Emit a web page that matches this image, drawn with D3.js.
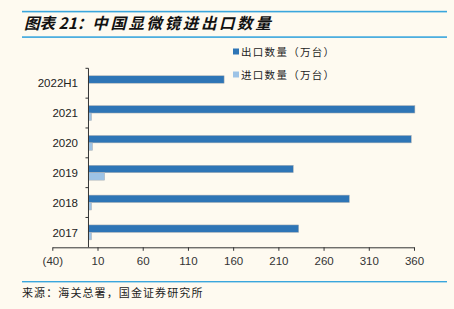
<!DOCTYPE html>
<html>
<head>
<meta charset="utf-8">
<script src="https://cdn.jsdelivr.net/npm/d3@7"></script>
<style>
  body { margin: 0; background: #fefaf0; }
  svg { display: block; }
</style>
</head>
<body>
<svg width="454" height="309"></svg>
<script>
// data
var categories = ["2022H1", "2021", "2020", "2019", "2018", "2017"];
var exportQty = [150, 361, 357, 226.5, 288.5, 232.5];
var importQty = [0.4, 3.5, 4.6, 18, 3.5, 3.5];
var seriesNames = ["出口数量（万台）", "进口数量（万台）"];
var xTicks = [-40, 10, 60, 110, 160, 210, 260, 310, 360];

var colors = ["#2e75b6", "#9dc3e6"];
var lineColor = "#3aa6dd";

var svg = d3.select("svg");

// header / footer rules
svg.append("rect").attr("x", 22).attr("y", 10.8).attr("width", 425).attr("height", 1.6).attr("fill", lineColor);
svg.append("rect").attr("x", 22).attr("y", 36.3).attr("width", 425).attr("height", 1.6).attr("fill", lineColor);
svg.append("rect").attr("x", 22).attr("y", 281).attr("width", 425).attr("height", 1.4).attr("fill", lineColor);

var title = svg.append("text")
    .attr("x", 24).attr("y", 29)
    .attr("font-family", "'Noto Sans CJK SC', sans-serif")
    .attr("font-size", 15.5)
    .attr("font-style", "italic")
    .attr("font-weight", "bold")
    .attr("fill", "#111");
title.append("tspan").text("图表 21：");
title.append("tspan").attr("letter-spacing", 2.6).text("中国显微镜进出口数量");

svg.append("text")
    .attr("x", 22).attr("y", 297)
    .attr("font-family", "'Noto Sans CJK SC', sans-serif")
    .attr("font-size", 11)
    .attr("letter-spacing", 1.1)
    .attr("fill", "#222")
    .text("来源：海关总署，国金证券研究所");

// scales
var x = d3.scaleLinear().domain([-40, 360]).range([52.3, 414]);
var y = d3.scaleBand().domain(categories).range([68.3, 247.3]).padding(0);
var ySub = d3.scaleBand().domain([0, 1]).range([0, y.bandwidth()]).paddingInner(0).paddingOuter(1);

var g = svg.append("g");

// bars
var rows = categories.map(function(c, i) {
    return { cat: c, vals: [exportQty[i], importQty[i]] };
});

var row = g.selectAll(".row")
    .data(rows)
    .enter().append("g")
    .attr("transform", function(d) { return "translate(0," + y(d.cat) + ")"; });

row.selectAll("rect")
    .data(function(d) { return d.vals; })
    .enter().append("rect")
    .attr("x", x(0))
    .attr("y", function(d, i) { return ySub(i); })
    .attr("width", function(d) { return x(d) - x(0); })
    .attr("height", ySub.bandwidth())
    .attr("fill", function(d, i) { return colors[i]; })
    .attr("stroke", "#b4b4b4")
    .attr("stroke-width", 0.5);

// x axis
var xAxis = d3.axisBottom(x)
    .tickValues(xTicks)
    .tickSize(3.5)
    .tickSizeOuter(0)
    .tickFormat(function(d) { return d < 0 ? "(" + (-d) + ")" : d; });

var xg = svg.append("g")
    .attr("transform", "translate(0," + 247.3 + ")")
    .call(xAxis);
xg.select(".domain").attr("stroke", "#333");
xg.selectAll(".tick line").attr("stroke", "#333");
xg.selectAll("text")
    .attr("font-family", "'Liberation Sans', Arial, sans-serif")
    .attr("font-size", 11.5)
    .attr("fill", "#333")
    .attr("dy", "0.95em");

// y axis
svg.append("line")
    .attr("x1", x(0)).attr("x2", x(0))
    .attr("y1", y.range()[0]).attr("y2", y.range()[1])
    .attr("stroke", "#333");

var boundaries = categories.map(function(c) { return y(c); });
svg.selectAll(".ytick")
    .data(boundaries)
    .enter().append("line")
    .attr("x1", x(0) - 3).attr("x2", x(0))
    .attr("y1", function(d) { return d; })
    .attr("y2", function(d) { return d; })
    .attr("stroke", "#333");

svg.selectAll(".ylab")
    .data(categories)
    .enter().append("text")
    .attr("x", 78)
    .attr("y", function(d) { return y(d) + y.bandwidth() / 2; })
    .attr("dy", "0.36em")
    .attr("text-anchor", "end")
    .attr("font-family", "'Liberation Sans', Arial, sans-serif")
    .attr("font-size", 11.5)
    .attr("fill", "#222")
    .text(function(d) { return d; });

// legend
var legend = svg.selectAll(".legend")
    .data(seriesNames)
    .enter().append("g")
    .attr("transform", function(d, i) { return "translate(233," + (48.5 + i * 23) + ")"; });

legend.append("rect")
    .attr("width", 6).attr("height", 6)
    .attr("fill", function(d, i) { return colors[i]; });

legend.append("text")
    .attr("x", 8).attr("y", 3)
    .attr("dy", "0.38em")
    .attr("font-family", "'Noto Sans CJK SC', sans-serif")
    .attr("font-size", 10.5)
    .attr("letter-spacing", 1.3)
    .attr("fill", "#222")
    .text(function(d) { return d; });
</script>
</body>
</html>
